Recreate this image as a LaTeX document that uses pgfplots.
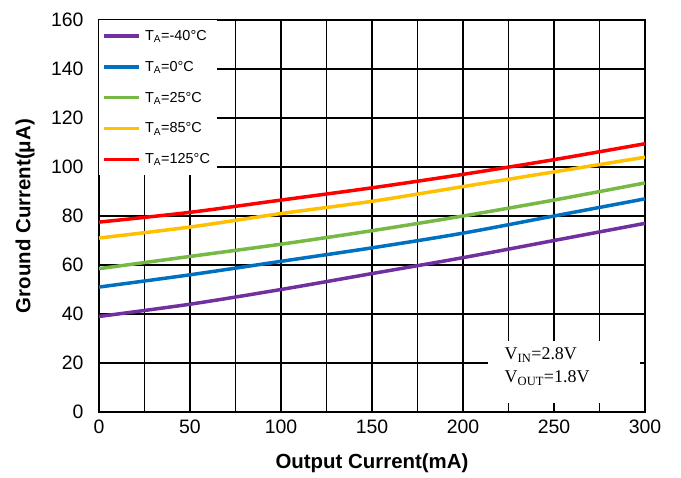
\documentclass[border=0pt]{standalone}
\usepackage{fontspec}
\setmainfont{Liberation Sans}
\newfontfamily\annfont{Liberation Serif}
\usepackage{pgfplots}
\pgfplotsset{compat=1.18}
\definecolor{cpurple}{RGB}{112,48,160}
\definecolor{cblue}{RGB}{0,112,192}
\definecolor{cgreen}{RGB}{120,185,70}
\definecolor{corange}{RGB}{255,192,0}
\definecolor{cred}{RGB}{255,0,0}
\begin{document}
\begin{tikzpicture}
\useasboundingbox (-99bp,-66bp) rectangle (582bp,412bp);
\begin{axis}[
  scale only axis, width=546bp, height=392bp,
  xmin=0, xmax=300, ymin=0, ymax=160,
  xtick={0,50,...,300}, minor xtick={25,75,...,275},
  ytick={0,20,...,160},
  grid=both,
  major grid style={black, line width=1.1pt},
  minor grid style={black, line width=1.1pt},
  axis line style={black, line width=2pt},
  tick style={black, line width=1.1pt}, tick align=inside,
  major tick length=6bp, minor tick length=6bp,
  tick label style={font=\fontsize{19.5}{22}\selectfont},
  xticklabel style={yshift=-4bp},
  yticklabel style={xshift=-12bp},
  /pgf/number format/assume math mode=true,
  xlabel={Output Current(mA)}, ylabel={Ground Current(μA)},
  label style={font=\bfseries\fontsize{20.5}{24}\selectfont},
  xlabel style={at={(axis description cs:0.5,-0.130)}, anchor=center},
  ylabel style={at={(axis description cs:-0.1355,0.5)}, anchor=center},
  legend style={at={(0,1)}, anchor=north west, fill=white, draw=none,
    font=\fontsize{14.5}{16}\selectfont, row sep=15.3bp, inner xsep=3bp, inner ysep=8bp,
    nodes={inner xsep=4bp}},
  legend cell align=left,
  legend image code/.code={\draw[#1, line width=3.5bp] (0cm,0cm) -- (1.25cm,0cm);},
  every axis plot/.append style={line width=3.5bp},
]
\addplot[cpurple, smooth] coordinates {(0,39) (50,44) (100,50) (150,56.5) (200,63) (250,70) (300,77)};
\addlegendentry{T\textsubscript{A}=-40°C}
\addplot[cblue, smooth] coordinates {(0,51) (50,56) (100,61.5) (150,67) (200,73) (250,80) (300,87)};
\addlegendentry{T\textsubscript{A}=0°C}
\addplot[cgreen, smooth] coordinates {(0,58.5) (50,63.5) (100,68.5) (150,74) (200,80) (250,86.5) (300,93.5)};
\addlegendentry{T\textsubscript{A}=25°C}
\addplot[corange, smooth] coordinates {(0,71) (50,75.5) (100,81) (150,86) (200,92) (250,98) (300,104)};
\addlegendentry{T\textsubscript{A}=85°C}
\addplot[cred, smooth] coordinates {(0,77.5) (50,81.5) (100,86.5) (150,91.5) (200,97) (250,103) (300,109.5)};
\addlegendentry{T\textsubscript{A}=125°C}
\fill[white] (axis cs:214,3.5) rectangle (axis cs:297,29);
\node[anchor=west, align=left, font=\annfont\fontsize{18}{23}\selectfont] at (axis cs:221,18.5) {V\textsubscript{IN}=2.8V\\V\textsubscript{OUT}=1.8V};
\end{axis}
\end{tikzpicture}
\end{document}
